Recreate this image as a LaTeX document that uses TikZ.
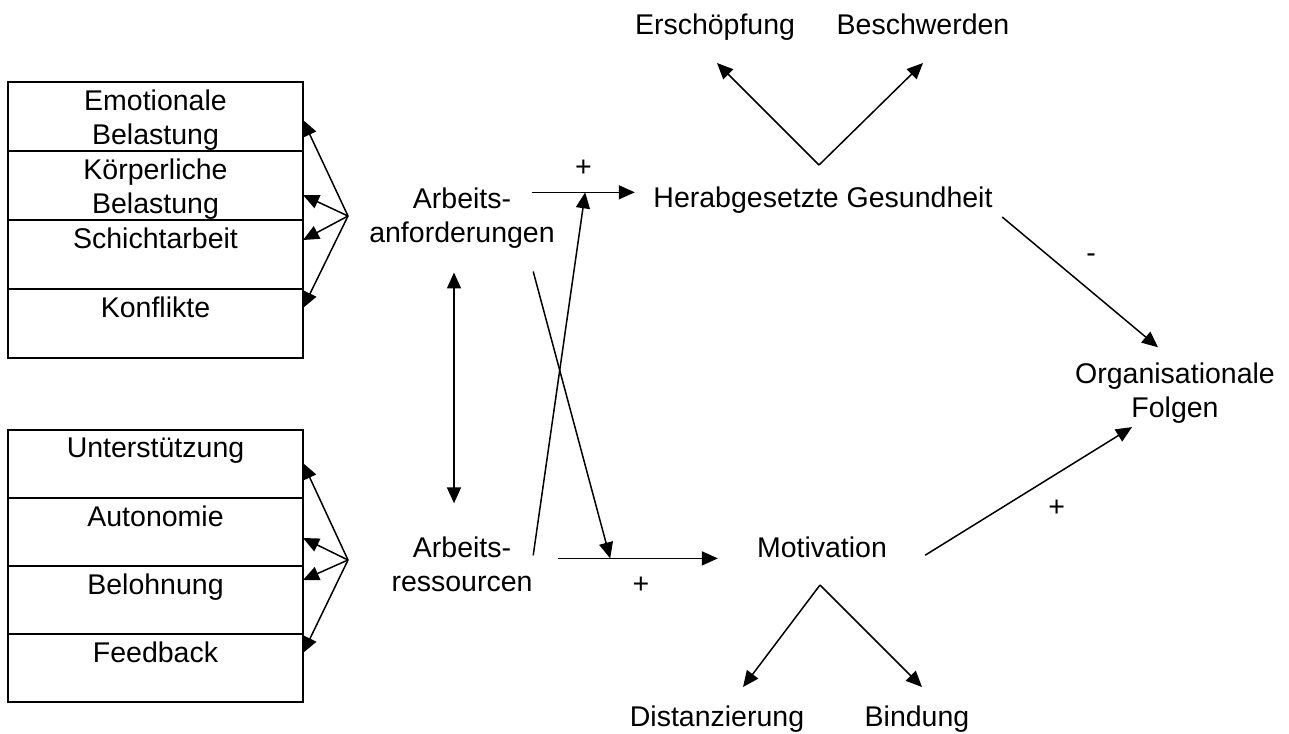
\documentclass[tikz,border=0pt]{standalone}
\usepackage{fontspec}
\setmainfont{Liberation Sans}
\usetikzlibrary{arrows.meta, positioning, calc}

\begin{document}
\begin{tikzpicture}[
  x=1pt, y=-1pt,
  font=\fontsize{28.5}{34}\selectfont,
  >={Triangle[length=16pt, width=14pt]},
  zelle/.style={draw, line width=1.6pt, minimum width=295pt, minimum height=69pt, inner sep=0pt, outer sep=0pt},
  zelleR/.style={zelle, minimum height=68pt},
  kopf/.style={anchor=north, align=center, inner sep=0pt, yshift=-8pt},
  begriff/.style={align=center, inner sep=0pt},
  pfeil/.style={->, line width=1.5pt},
]
\useasboundingbox (0,0) rectangle (1289,733);

% Anforderungen (links oben)
\node[zelle, label={[kopf]north:{Emotionale\\Belastung}}] (emo) at (155.5,116.5) {};
\node[zelle, below=0pt of emo, label={[kopf]north:{Körperliche\\Belastung}}] (koerper) {};
\node[zelle, below=0pt of koerper, label={[kopf]north:Schichtarbeit}] (schicht) {};
\node[zelle, below=0pt of schicht, label={[kopf]north:Konflikte}] (konflikt) {};

% Ressourcen (links unten)
\node[zelleR, label={[kopf]north:Unterstützung}] (unter) at (155.5,464) {};
\node[zelleR, below=0pt of unter, label={[kopf]north:Autonomie}] (autonomie) {};
\node[zelleR, below=0pt of autonomie, label={[kopf]north:Belohnung}] (belohnung) {};
\node[zelleR, below=0pt of belohnung, label={[kopf]north:Feedback}] (feedback) {};

% Faecher
\coordinate (fanA) at (348,216);
\coordinate (fanB) at (348,560);
\foreach \z/\v in {emo/-3.5, koerper/-9.5, schicht/14.5, konflikt/15.5}
  \draw[pfeil] (fanA) -- ([yshift=\v pt]\z.east);
\foreach \z/\v in {unter/1, autonomie/-6, belohnung/20, feedback/15}
  \draw[pfeil] (fanB) -- ([yshift=\v pt]\z.east);

% Begriffe
\node[begriff] (anf) at (462,218) {Arbeits-\\anforderungen};
\node[begriff] (res) at (462,564) {Arbeits-\\ressourcen};
\node[begriff, anchor=base] (herab) at (823,207) {Herabgesetzte Gesundheit};
\node[begriff, anchor=base] (mot) at (822,557) {Motivation};
\node[begriff, anchor=base] (ersch) at (715,35) {Erschöpfung};
\node[begriff, anchor=base] (beschw) at (923,35) {Beschwerden};
\node[begriff, anchor=base] (dist) at (717,726) {Distanzierung};
\node[begriff, anchor=base] (bind) at (917,726) {Bindung};
\node[begriff] (org) at (1175,393) {Organisationale\\Folgen};

% Wechselwirkung
\draw[pfeil, <->] ([shift={(-8pt,-24pt)}]anf.south) -- ([shift={(-8pt,33pt)}]res.north);

% Hauptpfade
\coordinate (anfR) at ([shift={(-22.7pt,-4.8pt)}]anf.north east);
\coordinate (resR) at ([shift={(25.5pt,5.6pt)}]res.east);
\draw[pfeil] (anfR) -- ($(anfR -| herab.west)+(-18.5,0)$) node[midway, yshift=24pt] {+};
\draw[pfeil] (resR) -- ($(resR -| mot.west)+(-39,0)$) node[midway, shift={(3pt,-27pt)}] {+};

% Kreuzpfade
\draw[pfeil] ([shift={(-21.7pt,-23pt)}]anf.south east) -- ($(resR)+(52,0)$);
\draw[pfeil] ([shift={(0.5pt,8.6pt)}]res.east) -- ($(anfR)+(53,0)$);

% Gesundheit
\coordinate (herabO) at ([shift={(-4pt,42pt)}]herab.base);
\draw[pfeil] (herabO) -- ([shift={(2pt,-28pt)}]ersch.base);
\draw[pfeil] (herabO) -- ([yshift=-28pt]beschw.base);

% Motivation
\coordinate (motU) at ([shift={(-2pt,-28pt)}]mot.base);
\draw[pfeil] (motU) -- ([shift={(26pt,39pt)}]dist.base);
\draw[pfeil] (motU) -- ([shift={(5pt,39pt)}]bind.base);

% Folgen
\draw[pfeil] ([shift={(9.5pt,-17.4pt)}]herab.east) -- ([shift={(-17pt,15.2pt)}]org.north) node[midway, shift={(11pt,24pt)}] {-};
\draw[pfeil] ([shift={(38pt,-8.4pt)}]mot.east) -- ([shift={(-43pt,-3.6pt)}]org.south) node[midway, shift={(28pt,-17pt)}] {+};

\end{tikzpicture}
\end{document}
